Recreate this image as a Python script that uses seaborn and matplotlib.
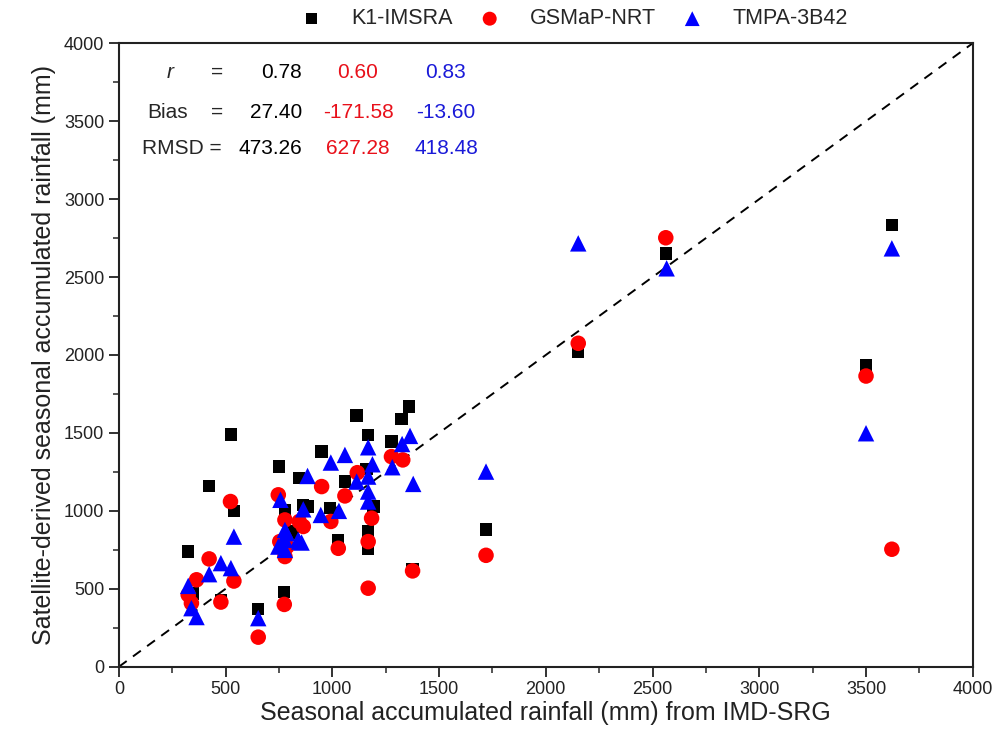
import numpy as np
import pandas as pd
import seaborn as sns
import matplotlib.pyplot as plt
from matplotlib.ticker import MultipleLocator

# K1-IMSRA
k1_x = [325, 348, 422, 478, 525, 539, 653, 750, 775, 778, 817, 845, 864, 887, 950, 989,
        1028, 1059, 1114, 1168, 1161, 1168, 1168, 1192, 1277, 1324, 1360, 1376, 1720,
        2152, 2562, 3500, 3621]
k1_y = [740, 470, 1160, 425, 1490, 1000, 372, 1284, 478, 1006, 867, 1212, 1038, 1027, 1380, 1017,
        810, 1188, 1612, 1487, 1268, 867, 760, 1027, 1446, 1590, 1670, 626, 880,
        2020, 2652, 1936, 2833]

# GSMaP-NRT
gs_x = [325, 340, 364, 423, 478, 523, 539, 653, 747, 754, 775, 778, 788, 778, 845, 864,
        950, 993, 1028, 1059, 1117, 1168, 1168, 1184, 1277, 1330, 1376, 1720, 2152, 2562,
        3500, 3621]
gs_y = [462, 408, 558, 692, 415, 1060, 550, 190, 1103, 803, 400, 942, 771, 707, 932, 900,
        1156, 932, 760, 1096, 1245, 803, 504, 953, 1348, 1327, 615, 715, 2075, 2752,
        1865, 754]

# TMPA-3B42
tm_x = [325, 340, 364, 423, 478, 525, 539, 653, 757, 747, 778, 778, 778, 786, 840, 845,
        856, 864, 884, 946, 993, 1031, 1059, 1114, 1168, 1168, 1168, 1168, 1188, 1281,
        1327, 1364, 1379, 1720, 2152, 2566, 3500, 3621]
tm_y = [519, 376, 319, 594, 665, 633, 835, 312, 1071, 771, 878, 814, 750, 857, 814, 803,
        797, 1010, 1224, 974, 1310, 1000, 1359, 1188, 1408, 1220, 1124, 1060, 1299, 1280,
        1429, 1481, 1173, 1252, 2716, 2556, 1498, 2684]

stats_labels = ["r", "Bias", "RMSD"]
k1_stats = ["0.78", "27.40", "473.26"]
gs_stats = ["0.60", "-171.58", "627.28"]
tm_stats = ["0.83", "-13.60", "418.48"]

sns.set_style("ticks")
plt.rcParams['font.family'] = ['Liberation Sans', 'DejaVu Sans']
plt.rcParams['xtick.major.size'] = 7
plt.rcParams['ytick.major.size'] = 7
plt.rcParams['xtick.minor.size'] = 4
plt.rcParams['ytick.minor.size'] = 4
plt.rcParams['axes.linewidth'] = 1.5
plt.rcParams['xtick.major.width'] = 1.3
plt.rcParams['ytick.major.width'] = 1.3
plt.rcParams['xtick.minor.width'] = 1.1
plt.rcParams['ytick.minor.width'] = 1.1

fig = plt.figure(figsize=(10.07, 7.45), dpi=100)
ax = fig.add_axes([0.118, 0.105, 0.848, 0.837])

ax.plot([0, 4000], [0, 4000], linestyle="--", color="black", linewidth=1.4, dashes=(5, 4), zorder=1)

sns.scatterplot(x=k1_x, y=k1_y, ax=ax, marker="s", color="black", s=80, edgecolor="none", label="K1-IMSRA", zorder=3)
sns.scatterplot(x=gs_x, y=gs_y, ax=ax, marker="o", color="red", s=125, edgecolor="none", label="GSMaP-NRT", zorder=4)
sns.scatterplot(x=tm_x, y=tm_y, ax=ax, marker="^", color="blue", s=140, edgecolor="none", label="TMPA-3B42", zorder=5)

ax.set_xlim(0, 4000)
ax.set_ylim(0, 4000)
ax.xaxis.set_major_locator(MultipleLocator(500))
ax.yaxis.set_major_locator(MultipleLocator(500))
ax.xaxis.set_minor_locator(MultipleLocator(250))
ax.yaxis.set_minor_locator(MultipleLocator(250))
ax.tick_params(labelsize=13, colors="#222222")
for sp in ax.spines.values():
    sp.set_color("#222222")

ax.set_xlabel("Seasonal accumulated rainfall (mm) from IMD-SRG", fontsize=18, color="#222222", labelpad=2)
ax.set_ylabel("Satellite-derived seasonal accumulated rainfall (mm)", fontsize=18, color="#222222", labelpad=6)

leg = ax.legend(loc="lower center", bbox_to_anchor=(0.527, 1.005), ncol=3, frameon=False,
                fontsize=15.5, handletextpad=0.85, columnspacing=0.7, borderaxespad=0.1,
                markerscale=0.9)

# statistics block
rows_y = [72, 112, 148]
W, H = 1007, 745
for i, lab in enumerate(stats_labels):
    yy = 1 - rows_y[i] / H
    if lab == "r":
        fig.text(170 / W, yy, "r", fontsize=15, style="italic", ha="center", va="center")
        fig.text(217 / W, yy, "=", fontsize=15, ha="center", va="center")
    elif lab == "Bias":
        fig.text(168 / W, yy, "Bias", fontsize=15, ha="center", va="center")
        fig.text(217 / W, yy, "=", fontsize=15, ha="center", va="center")
    else:
        fig.text(142 / W, yy, "RMSD =", fontsize=15, ha="left", va="center")
    fig.text(302 / W, yy, k1_stats[i], fontsize=15, ha="right", va="center", color="black")
    fig.text(358 / W, yy, gs_stats[i], fontsize=15, ha="center", va="center", color="#e8101a")
    fig.text(446 / W, yy, tm_stats[i], fontsize=15, ha="center", va="center", color="#1a1ad8")

fig.savefig("out.png", dpi=100)
